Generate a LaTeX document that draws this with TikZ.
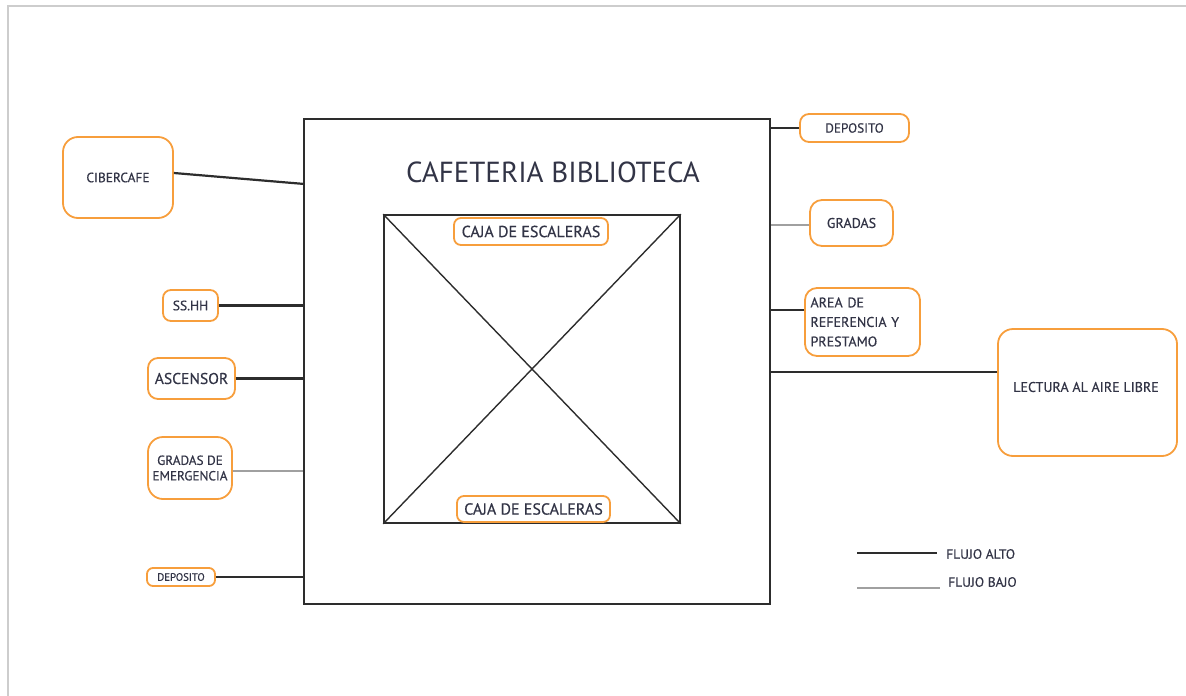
\documentclass[tikz,border=0pt]{standalone}
\usepackage{fontspec}
\setmainfont{PT Sans}
\newfontfamily\medfont{PT Sans}[FakeBold=0.5]
\definecolor{orng}{RGB}{247,158,60}
\definecolor{txt}{RGB}{50,52,70}
\definecolor{dark}{RGB}{45,45,45}
\definecolor{lite}{RGB}{160,160,160}
\definecolor{frame}{RGB}{205,205,205}
\newcommand{\fsz}[1]{\fontsize{#1}{#1}\medfont}
\tikzset{
  room/.style={draw=orng, line width=1.8pt, rounded corners=8pt, text=txt, inner sep=0pt, align=center},
  hi/.style={draw=dark, line width=2.2pt},
  lo/.style={draw=lite, line width=1.5pt},
  wall/.style={draw=dark, line width=1.7pt, inner sep=0pt}
}
\begin{document}
\begin{tikzpicture}[x=1pt,y=-1pt]
\useasboundingbox (0,0) rectangle (1186,696);
\draw[frame, line width=1.5pt] (8,697) -- (8,6) -- (1187,6);
% main building
\node[wall, minimum width=466pt, minimum height=485pt] (main) at (537,361.5) {};
\node[text=txt, font=\fontsize{29}{29}\selectfont] (title) at (553,172) {CAFETERIA BIBLIOTECA};
\node[wall, minimum width=296pt, minimum height=308pt] (inner) at (532,369) {};
\draw[dark, line width=1.4pt] (inner.north west) -- (inner.south east);
\draw[dark, line width=1.4pt] (inner.north east) -- (inner.south west);
\node[room, rounded corners=7pt, fill=white, minimum width=154pt, minimum height=27pt, font=\fsz{16}] (caja1) at (531,231.5) {CAJA DE ESCALERAS};
\node[room, rounded corners=7pt, fill=white, minimum width=153pt, minimum height=26pt, font=\fsz{16}] (caja2) at (533.5,509) {CAJA DE ESCALERAS};
% left rooms
\node[room, rounded corners=15pt, minimum width=110pt, minimum height=81pt, font=\fsz{13.4}] (ciber) at (118,177.5) {CIBERCAFE};
\node[room, minimum width=55pt, minimum height=31pt, font=\fsz{13.5}] (ss) at (190.5,305.5) {SS.HH};
\node[room, rounded corners=10pt, minimum width=87pt, minimum height=41pt, font=\fsz{15.6}] (asc) at (191.5,378.5) {ASCENSOR};
\node[room, rounded corners=15pt, minimum width=84pt, minimum height=62pt, font=\fontsize{13.2}{15.5}\medfont] (gre) at (190,468) {GRADAS DE\\EMERGENCIA};
\node[room, rounded corners=6pt, minimum width=68pt, minimum height=18pt, font=\fsz{10.7}] (depl) at (181,577) {DEPOSITO};
% right rooms
\node[room, rounded corners=9pt, minimum width=109pt, minimum height=28pt, font=\fsz{13.2}] (depr) at (854.5,128) {DEPOSITO};
\node[room, rounded corners=12pt, minimum width=83pt, minimum height=46pt, font=\fsz{14}] (grad) at (851.5,223) {GRADAS};
\node[room, rounded corners=12pt, minimum width=115pt, minimum height=68pt, font=\fontsize{14}{19.5}\medfont, align=left, text width=104pt] (area) at (862.5,322) {AREA DE\\REFERENCIA Y\\PRESTAMO};
\node[room, rounded corners=15pt, minimum width=179pt, minimum height=127pt] (lect) at (1087.5,392.5) {};
\node[text=txt, font=\fsz{14}] (lectt) at (1086,387) {LECTURA AL AIRE LIBRE};
% connectors
\coordinate (cw) at (304.5,184);
\draw[hi] ([yshift=4.5pt]ciber.east) -- (cw);
\draw[hi] (ss.east) -- (ss.east -| main.west);
\draw[hi] (asc.east) -- (asc.east -| main.west);
\draw[lo] ([yshift=-3pt]gre.east) -- ([yshift=-3pt]gre.east -| main.west);
\draw[hi] (depl.east) -- (depl.east -| main.west);
\draw[hi] (depr.west) -- (depr.west -| main.east);
\draw[lo] ([yshift=-2pt]grad.west) -- ([yshift=-2pt]grad.west -| main.east);
\draw[hi] ([yshift=12pt]area.west) -- ([yshift=12pt]area.west -| main.east);
\draw[hi] ([yshift=20.5pt]lect.west) -- ([yshift=20.5pt]lect.west -| main.east);
% legend
\coordinate (l1a) at (857,553); \coordinate (l1b) at (937,553);
\coordinate (l2a) at (857,588); \coordinate (l2b) at (940,588);
\draw[hi] (l1a) -- (l1b);
\draw[lo] (l2a) -- (l2b);
\node[text=txt, font=\fsz{13.5}, anchor=west, inner sep=0pt] (la) at (946,554) {FLUJO ALTO};
\node[text=txt, font=\fsz{13.5}, anchor=west, inner sep=0pt] (lb) at (948,582) {FLUJO BAJO};
\end{tikzpicture}
\end{document}
